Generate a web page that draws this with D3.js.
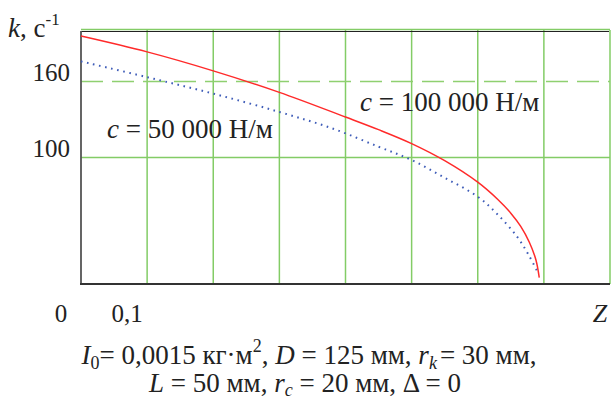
<!DOCTYPE html>
<html>
<head>
<meta charset="utf-8">
<script src="https://cdn.jsdelivr.net/npm/d3@7"></script>
<style>
  body { margin: 0; background: #fff; }
  svg text { font-family: 'Liberation Serif', 'DejaVu Serif', serif; fill: #222; }
</style>
</head>
<body>
<svg id="chart" width="611" height="399"></svg>
<script>
// dimensions of the svg
var width = 611, height = 399;
var serif = "'Liberation Serif', 'DejaVu Serif', serif";

// Z values and k (1/s)
var zStiff = [0, 0.1, 0.2, 0.3, 0.4, 0.45, 0.5, 0.55, 0.6, 0.63, 0.65, 0.665, 0.678, 0.688, 0.693];
var kStiff = [196, 183.5, 168.5, 151.5, 132, 122, 111, 97.5, 80.5, 67, 56, 45.5, 33, 19, 5];

var zSoft = [0, 0.1, 0.2, 0.3, 0.38, 0.45, 0.5, 0.55, 0.6, 0.63, 0.66, 0.678, 0.691];
var kSoft = [176, 163.5, 150.5, 136, 123, 108.5, 98, 84, 69, 55, 37, 22, 9];

// grid / ticks
var xGrid = [0.1, 0.2, 0.3, 0.4, 0.5, 0.6, 0.7, 0.8];
var yGrid = [100, 200];
var kLimit = 160;
var yTicks = [160, 100];
var xTickLabels = [{v: 0, t: '0'}, {v: 0.1, t: '0,1'}];

var x = d3.scaleLinear().domain([0, 0.8]).range([81, 610]);
var y = d3.scaleLinear().domain([0, 200]).range([284, 31]);

var svg = d3.select('#chart');

//vertical grid lines
svg.append('g').selectAll('line')
    .data(xGrid)
    .enter().append('line')
    .attr('x1', function(d) { return x(d) })
    .attr('x2', function(d) { return x(d) })
    .attr('y1', y(200) - 1)
    .attr('y2', y(0))
    .attr('stroke', '#83cc66')
    .attr('stroke-width', 1.5)

//horizontal grid lines
svg.append('g').selectAll('line')
    .data(yGrid)
    .enter().append('line')
    .attr('x1', x(0))
    .attr('x2', x(0.8))
    .attr('y1', function(d) { return y(d) - (d == 200 ? 1.5 : 0) })
    .attr('y2', function(d) { return y(d) - (d == 200 ? 1.5 : 0) })
    .attr('stroke', '#83cc66')
    .attr('stroke-width', 1.5)

// dashed line at k = 160
svg.append('line')
    .attr('x1', x(0)).attr('x2', x(0.8))
    .attr('y1', y(kLimit)).attr('y2', y(kLimit))
    .attr('stroke', '#8fd070')
    .attr('stroke-width', 1.5)
    .attr('stroke-dasharray', '22,9')

// frame: top, left, bottom
svg.append('line')
    .attr('x1', x(0)).attr('x2', x(0.8) - 1)
    .attr('y1', y(200) + 0.5).attr('y2', y(200) + 0.5)
    .attr('stroke', '#222').attr('stroke-width', 1.2)
svg.append('line')
    .attr('x1', x(0)).attr('x2', x(0))
    .attr('y1', y(200)).attr('y2', y(0))
    .attr('stroke', '#555').attr('stroke-width', 1.8)
svg.append('line')
    .attr('x1', x(0) - 1).attr('x2', x(0.8))
    .attr('y1', y(0)).attr('y2', y(0))
    .attr('stroke', '#333').attr('stroke-width', 1.8)

var line = d3.line()
    .x(function(d) { return x(d[0]) })
    .y(function(d) { return y(d[1]) })
    .curve(d3.curveCatmullRom.alpha(0.5));

svg.append('path')
    .datum(d3.zip(zSoft, kSoft))
    .attr('d', line)
    .attr('fill', 'none')
    .attr('stroke', '#3e5cb8')
    .attr('stroke-width', 2)
    .attr('stroke-dasharray', '1.6,4.6')

svg.append('path')
    .datum(d3.zip(zStiff, kStiff))
    .attr('d', line)
    .attr('fill', 'none')
    .attr('stroke', '#ff2a2a')
    .attr('stroke-width', 1.5)

// y tick labels
svg.append('g').selectAll('text')
    .data(yTicks)
    .enter().append('text')
    .attr('x', 70)
    .attr('y', function(d) { return y(d) - 1 })
    .attr('text-anchor', 'end')
    .attr('font-family', serif)
    .attr('font-size', 25)
    .text(function(d) { return d });

// x tick labels
svg.append('g').selectAll('text')
    .data(xTickLabels)
    .enter().append('text')
    .attr('x', function(d) { return x(d.v) - 20 })
    .attr('y', 322)
    .attr('text-anchor', 'middle')
    .attr('font-family', serif)
    .attr('font-size', 25)
    .text(function(d) { return d.t });

svg.append('text')
    .attr('x', 600).attr('y', 322)
    .attr('text-anchor', 'middle')
    .attr('font-family', serif)
    .attr('font-size', 26)
    .attr('font-style', 'italic')
    .text('Z');

// axis name k, c^-1
var yLab = svg.append('text').attr('x', 8).attr('y', 37)
    .attr('font-family', serif).attr('font-size', 27);
yLab.append('tspan').attr('font-style', 'italic').text('k');
yLab.append('tspan').text(', c');
yLab.append('tspan').attr('font-size', 17).attr('dy', -12).text('-1');

// curve annotations
function annot(tx, ty, rest) {
  var t = svg.append('text').attr('x', tx).attr('y', ty)
      .attr('font-family', serif).attr('font-size', 27);
  t.append('tspan').attr('font-style', 'italic').text('c');
  t.append('tspan').text(' = ' + rest);
}
annot(360, 111, '100 000 Н/м');
annot(107, 138, '50 000 Н/м');

// caption lines
var cap1 = svg.append('text').attr('x', 309).attr('y', 364)
    .attr('text-anchor', 'middle').attr('font-family', serif).attr('font-size', 27);
cap1.append('tspan').attr('font-style', 'italic').text('I');
cap1.append('tspan').attr('font-size', 18).attr('dy', 5).text('0');
cap1.append('tspan').attr('dy', -5).text('= 0,0015 кг·м');
cap1.append('tspan').attr('font-size', 18).attr('dy', -12).text('2');
cap1.append('tspan').attr('dy', 12).text(', ');
cap1.append('tspan').attr('font-style', 'italic').text('D');
cap1.append('tspan').text(' = 125 мм, ');
cap1.append('tspan').attr('font-style', 'italic').text('r');
cap1.append('tspan').attr('font-style', 'italic').attr('font-size', 18).attr('dy', 5).text('k');
cap1.append('tspan').attr('dy', -5).attr('dx', 3).text('= 30 мм,');

var cap2 = svg.append('text').attr('x', 305).attr('y', 392)
    .attr('text-anchor', 'middle').attr('font-family', serif).attr('font-size', 27);
cap2.append('tspan').attr('font-style', 'italic').text('L');
cap2.append('tspan').text(' = 50 мм, ');
cap2.append('tspan').attr('font-style', 'italic').text('r');
cap2.append('tspan').attr('font-style', 'italic').attr('font-size', 18).attr('dy', 4).text('c');
cap2.append('tspan').attr('dy', -4).text(' = 20 мм, Δ = 0');
</script>
</body>
</html>
